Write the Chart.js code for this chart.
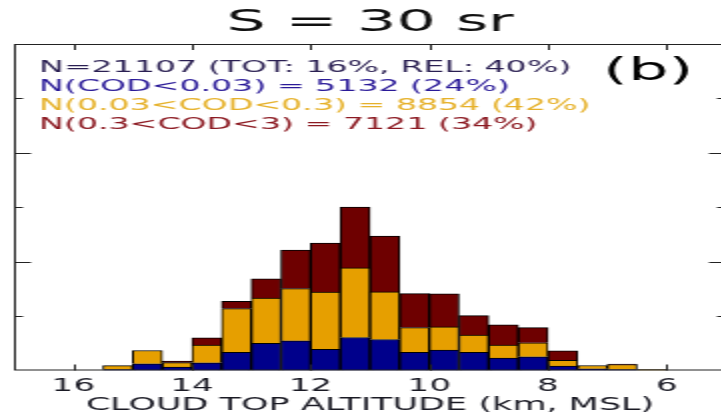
<!DOCTYPE html>
<html lang="en">
  <head>
    <meta charset="UTF-8" />
    <title>S = 30 sr</title>
    <script src="https://cdn.jsdelivr.net/npm/chart.js@4.4.0/dist/chart.umd.min.js"></script>
    <style>
      html, body { margin: 0; padding: 0; overflow: hidden; background: #fff; }
      /* the reference figure is stretched sideways, so the canvas is drawn narrow and widened */
      #wrap { width: 363px; height: 416px; transform: scaleX(2); transform-origin: 0 0; }
    </style>
  </head>
  <body>
    <div id="wrap"><canvas id="hist"></canvas></div>
    <script>
      // bin centres, km (0.5 km bins)
      const altitudes = [15.25, 14.75, 14.25, 13.75, 13.25, 12.75, 12.25, 11.75, 11.25, 10.75,
                         10.25, 9.75, 9.25, 8.75, 8.25, 7.75, 7.25, 6.75, 6.25];
      const codThin   = [18, 123, 62, 141, 336, 501, 545, 391, 606, 569,
                         336, 373, 336, 226, 251, 79, 31, 18, 0];
      const codMid    = [73, 244, 84, 325, 802, 831, 960, 1051, 1279, 875,
                         453, 428, 317, 239, 257, 110, 61, 92, 18];
      const codThick  = [0, 0, 26, 134, 134, 354, 710, 899, 1119, 1028,
                         624, 606, 354, 373, 281, 171, 0, 9, 0];
      const xTicks = [16, 14, 12, 10, 8, 6];
      const yMinorTicks = [1000, 3000, 5000];
      const yMajorTicks = [2000, 4000];
      const notes = [
        ['N=21107 (TOT: 16%, REL: 40%)', '#2a1f52'],
        ['N(COD<0.03) = 5132 (24%)', '#2a1a98'],
        ['N(0.03<COD<0.3) = 8854 (42%)', '#e6b12a'],
        ['N(0.3<COD<3) = 7121 (34%)', '#8c1a22']
      ];

      const FONT = "'DejaVu Sans', sans-serif";

      function points(vals) {
        return altitudes.map((x, i) => ({ x: x, y: vals[i] }));
      }

      // frame, inward ticks and the text block
      const framePlugin = {
        id: 'frame',
        afterDraw(chart) {
          const ctx = chart.ctx;
          const a = chart.chartArea;
          const xs = chart.scales.x;
          const ys = chart.scales.y;
          ctx.save();
          ctx.strokeStyle = '#222';
          ctx.lineWidth = 1;
          ctx.strokeRect(a.left + 0.5, a.top + 0.5, a.right - a.left - 1, a.bottom - a.top - 1);

          ctx.beginPath();
          xTicks.forEach(v => {
            const px = Math.round(xs.getPixelForValue(v)) + 0.5;
            ctx.moveTo(px, a.top); ctx.lineTo(px, a.top + 6);
            ctx.moveTo(px, a.bottom); ctx.lineTo(px, a.bottom - 6);
          });
          yMinorTicks.forEach(v => {
            const py = Math.round(ys.getPixelForValue(v)) + 0.5;
            ctx.moveTo(a.left, py); ctx.lineTo(a.left + 4.5, py);
            ctx.moveTo(a.right, py); ctx.lineTo(a.right - 4.5, py);
          });
          yMajorTicks.forEach(v => {
            const py = Math.round(ys.getPixelForValue(v)) + 0.5;
            ctx.moveTo(a.left, py); ctx.lineTo(a.left + 8.5, py);
            ctx.moveTo(a.right, py); ctx.lineTo(a.right - 8.5, py);
          });
          ctx.stroke();

          ctx.textBaseline = 'middle';
          ctx.textAlign = 'left';
          ctx.font = '16.6px ' + FONT;
          notes.forEach((n, i) => {
            ctx.fillStyle = n[1];
            ctx.fillText(n[0], 19.5, 67.5 + i * 19);
          });
          ctx.fillStyle = '#000';
          ctx.font = '32px ' + FONT;
          ctx.fillText('(b)', 301.5, 71.5);
          ctx.restore();
        }
      };

      new Chart(document.getElementById('hist'), {
        type: 'bar',
        data: {
          datasets: [
            { label: 'COD<0.03', data: points(codThin), backgroundColor: '#00008b' },
            { label: '0.03<COD<0.3', data: points(codMid), backgroundColor: '#e69f00' },
            { label: '0.3<COD<3', data: points(codThick), backgroundColor: '#6e0000' }
          ]
        },
        options: {
          responsive: true,
          maintainAspectRatio: false,
          animation: false,
          layout: { padding: { left: 7, right: 0, top: 0, bottom: 0 } },
          datasets: {
            bar: {
              barPercentage: 1,
              categoryPercentage: 1,
              borderColor: '#000',
              borderWidth: 1
            }
          },
          scales: {
            x: {
              type: 'linear',
              reverse: true,
              min: 5,
              max: 17,
              offset: false,
              stacked: true,
              afterBuildTicks: s => { s.ticks = xTicks.map(v => ({ value: v })); },
              grid: { display: false, drawTicks: false },
              border: { display: false },
              ticks: {
                padding: 8,
                color: '#1a1a24',
                font: { family: FONT, size: 17, lineHeight: 1 }
              },
              title: {
                display: true,
                text: 'CLOUD TOP ALTITUDE (km, MSL)',
                color: '#1a1a24',
                padding: { top: -7, bottom: 2 },
                font: { family: FONT, size: 17.5, lineHeight: 1 }
              }
            },
            y: {
              display: false,
              stacked: true,
              min: 0,
              max: 6000
            }
          },
          plugins: {
            legend: { display: false },
            tooltip: { enabled: false },
            title: {
              display: true,
              text: 'S = 30 sr',
              color: '#111',
              padding: { top: 4.4, bottom: 2.4 },
              font: { family: FONT, size: 31, weight: 'normal', lineHeight: 1.2 }
            }
          }
        },
        plugins: [framePlugin]
      });
    </script>
  </body>
</html>
